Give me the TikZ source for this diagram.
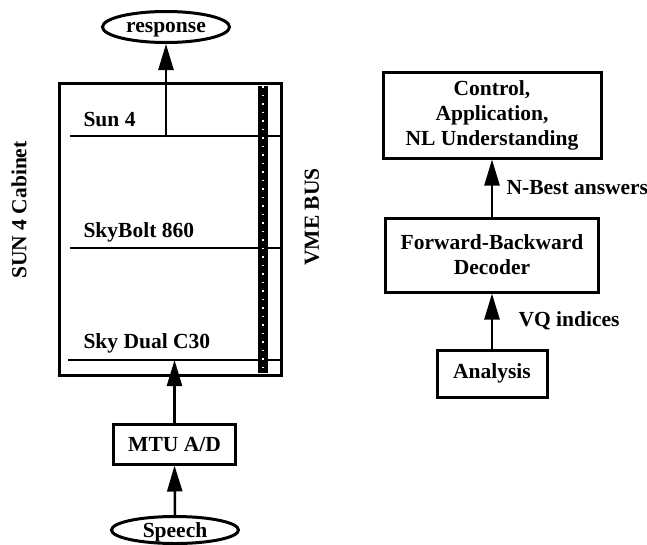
\documentclass[tikz,border=0pt]{standalone}
\usepackage{fontspec}
\setmainfont{Liberation Serif}
\usetikzlibrary{arrows.meta,positioning,shapes.geometric}

\begin{document}
\begin{tikzpicture}[
    x=1pt,y=-1pt,
    >={Triangle[length=26pt,width=15pt]},
    font=\fontsize{21.5}{25}\selectfont\bfseries,
    box/.style={
      rectangle,draw,line width=3pt,align=center,inner sep=0pt
    },
    oval/.style={
      ellipse,draw,line width=3pt,inner sep=0pt,text depth=0pt
    },
    board/.style={line width=2.5pt},
    flow/.style={->,line width=2.5pt}
  ]
    \useasboundingbox (0,0) rectangle (647,544);

    % left side: cabinet with boards on the bus
    \node[box,minimum width=222pt,minimum height=292pt] (cab) at (170.5,229.5) {};
    \node[rotate=90] (cablabel) at (19,210) {SUN 4 Cabinet};
    \node[rotate=90] (buslabel) at (312,217) {VME BUS};

    \coordinate (sunL) at (70,136);
    \coordinate (boltL) at (70,248);
    \coordinate (dualL) at (68,360);
    \draw[board] (sunL) -- (sunL -| cab.east);
    \draw[board] (boltL) -- (boltL -| cab.east);
    \draw[board] (dualL) -- (dualL -| cab.east);
    \node[anchor=west] (sun) at (80,120) {Sun 4};
    \node[anchor=west] (bolt) at (80,232) {SkyBolt 860};
    \node[anchor=west] (dual) at (80,343) {Sky Dual C30};

    % VME bus bar
    \coordinate (busT) at (263,86);
    \coordinate (busB) at (263,373);
    \draw[line width=10pt] (busT) -- (busB);
    \draw[white,line width=1.5pt,dash pattern=on 1.5pt off 7pt] (busT) -- (busB);

    \node[oval,minimum width=127pt,minimum height=31pt] (resp) at (166,27) {response};
    \coordinate (sunout) at (166,136);
    \draw[flow] (sunout) -- (resp.south);

    \node[box,minimum width=122pt,minimum height=40pt] (mtu) at (174.5,444) {MTU A/D};
    \node[oval,minimum width=127pt,minimum height=27pt] (speech) at (175,530) {Speech};
    \coordinate (dualin) at (mtu.north |- dualL);
    \draw[flow] (mtu.north) -- (dualin);
    \draw[flow] (speech.north) -- (mtu.south);

    % right side: processing chain
    \node[box,minimum width=218pt,minimum height=86pt] (ctrl) at (492,115)
      {Control,\\Application,\\NL Understanding};
    \node[box,minimum width=213pt,minimum height=74pt,below=57pt of ctrl] (fbd)
      {Forward-Backward\\Decoder};
    \node[box,minimum width=110pt,minimum height=47pt,below=55pt of fbd] (ana) {Analysis};

    \draw[flow] (fbd) -- node[right=10pt] {N-Best answers} (ctrl);
    \draw[flow] (ana) -- node[right=22pt] {VQ indices} (fbd);
  \end{tikzpicture}
\end{document}
